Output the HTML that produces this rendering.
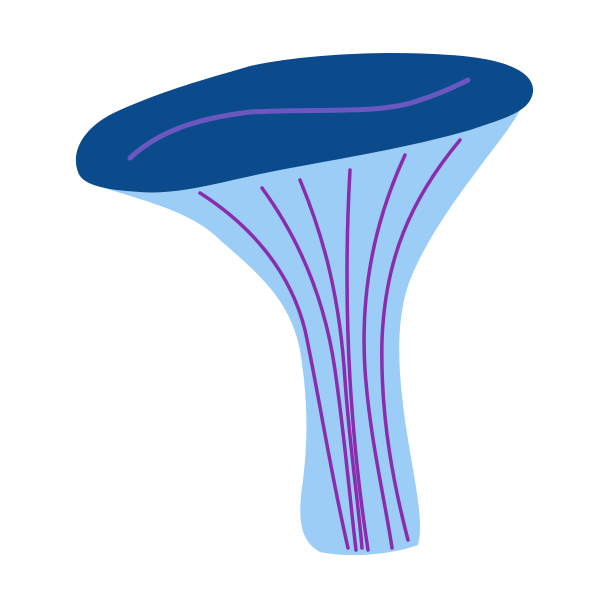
<!DOCTYPE html>
<html><head><meta charset="utf-8"><style>html,body{margin:0;padding:0;background:#fff}svg{display:block}</style></head>
<body>
<svg width="612" height="612" viewBox="0 0 612 612">
<path fill="#9bcdf6" d="M95 185 C140 200 190 210 220 240 C260 275 290 300 300 350 C308 400 308 440 303 480 C298 515 298 540 320 552 C350 558 390 555 418 545 C425 520 412 470 405 420 C398 370 395 320 410 280 C430 230 470 180 500 140 C515 120 525 105 525 95 L300 130 Z"/>
<path fill="#0b4a8b" d="M78 172 C70 150 85 125 120 110 C170 88 210 78 250 66 C300 55 380 50 450 55 C500 58 535 70 533 92 C530 112 505 118 470 130 C400 150 330 160 270 172 C220 182 180 195 140 192 C105 190 82 185 78 172 Z"/>
<path fill="none" stroke="#6a58c0" stroke-width="5" stroke-linecap="round" d="M130 158 C160 130 200 118 250 112 C320 108 380 115 420 100 C445 92 460 84 468 80"/>
<g fill="none" stroke="#8a2cae" stroke-width="3.5" stroke-linecap="round">
<path d="M200 193 C250 225 290 270 305 330 C318 390 330 470 348 548"/>
<path d="M262 188 C300 240 325 300 335 370 C345 440 350 500 356 550"/>
<path d="M300 180 C325 240 340 300 345 380 C350 450 358 500 362 548"/>
<path d="M350 170 C346 240 346 310 350 380 C355 460 362 510 368 550"/>
<path d="M405 155 C375 220 360 290 365 370 C370 440 385 500 392 548"/>
<path d="M460 140 C410 200 385 260 382 340 C380 420 395 490 408 540"/>
</g>
</svg>
</body></html>
